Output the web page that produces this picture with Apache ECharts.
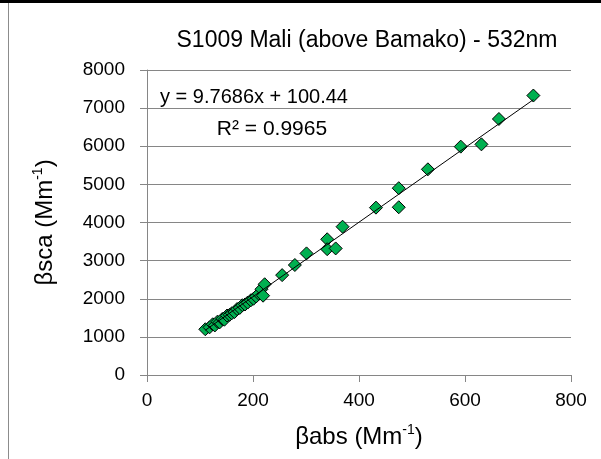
<!DOCTYPE html>
<html>
<head>
<meta charset="utf-8">
<script src="https://cdn.jsdelivr.net/npm/echarts@6/dist/echarts.min.js"></script>
<style>
html,body{margin:0;padding:0;background:#fff;}
#chart{width:601px;height:459px;}
</style>
</head>
<body>
<div id="chart"></div>
<script>
// ---- data ----
var titleText = 'S1009 Mali (above Bamako) - 532nm';
var equationText = 'y = 9.7686x + 100.44';
var r2Text = 'R\u00B2 = 0.9965';
var trendSlope = 9.7686;
var trendIntercept = 100.44;
var xTicks = [0, 200, 400, 600, 800];
var yTicks = [0, 1000, 2000, 3000, 4000, 5000, 6000, 7000, 8000];
var babs = [110, 118, 124, 128, 133, 137, 142, 146, 151, 156, 160, 165, 170, 175, 180, 185, 190, 196, 201, 206, 211, 216, 219, 222,
            255, 279, 301, 340, 340, 356, 369, 432, 475, 475, 530, 592, 631, 664, 729];
var bsca = [1200, 1250, 1330, 1300, 1400, 1380, 1470, 1450, 1560, 1580, 1620, 1650, 1730, 1760, 1830, 1850, 1900, 1960, 2000, 2060, 2130, 2250, 2080, 2380,
            2620, 2885, 3190, 3560, 3300, 3320, 3890, 4390, 4900, 4400, 5395, 5990, 6050, 6715, 7330];

var font = 'Liberation Sans';
var pts = babs.map(function(x, i){ return [x, bsca[i]]; });
var xmin = Math.min.apply(null, babs), xmax = Math.max.apply(null, babs);
var trend = [[xmin, trendSlope * xmin + trendIntercept], [xmax, trendSlope * xmax + trendIntercept]];

var chart = echarts.init(document.getElementById('chart'), null, {renderer: 'canvas'});
var gray = '#868686';
chart.setOption({
  animation: false,
  backgroundColor: '#fff',
  grid: {left: 147, right: 30, top: 70, bottom: 84, containLabel: false},
  xAxis: {
    type: 'value', min: xTicks[0], max: xTicks[xTicks.length - 1], interval: xTicks[1] - xTicks[0],
    axisLine: {show: true, onZero: false, lineStyle: {color: gray, width: 1}},
    axisTick: {show: true, length: 7, lineStyle: {color: gray}},
    splitLine: {show: false},
    axisLabel: {color: '#000', fontFamily: font, fontSize: 19, margin: 16, formatter: function(v){ return String(v); }},
    name: '{n|\u03B2abs (Mm}{s|-1}{n|)}',
    nameLocation: 'middle', nameGap: 48,
    nameTextStyle: {rich: {
      n: {fontFamily: font, fontSize: 24, color: '#000', lineHeight: 28},
      s: {fontFamily: font, fontSize: 14, color: '#000', verticalAlign: 'top', lineHeight: 28}
    }}
  },
  yAxis: {
    type: 'value', min: yTicks[0], max: yTicks[yTicks.length - 1], interval: yTicks[1] - yTicks[0],
    axisLine: {show: true, lineStyle: {color: gray, width: 1}},
    axisTick: {show: true, length: 7, lineStyle: {color: gray}},
    splitLine: {show: true, lineStyle: {color: gray, width: 1}},
    axisLabel: {color: '#000', fontFamily: font, fontSize: 19, margin: 22, formatter: function(v){ return String(v); }},
    name: '{n|\u03B2sca (Mm}{s|-1}{n|)}',
    nameLocation: 'middle', nameGap: 88, nameRotate: 90,
    nameTextStyle: {rich: {
      n: {fontFamily: font, fontSize: 24, color: '#000', lineHeight: 28},
      s: {fontFamily: font, fontSize: 14, color: '#000', verticalAlign: 'top', lineHeight: 28}
    }}
  },
  series: [
    {
      type: 'line', data: trend, symbol: 'none', silent: true,
      lineStyle: {color: '#000', width: 1}, z: 3
    },
    {
      type: 'scatter', data: pts, symbol: 'diamond', symbolSize: 13,
      itemStyle: {color: '#00B050', borderColor: '#000', borderWidth: 1, opacity: 1}, z: 2
    }
  ],
  graphic: [
    {type: 'rect', shape: {x: 0, y: 0, width: 601, height: 3}, style: {fill: '#000'}, silent: true},
    {type: 'rect', shape: {x: 8, y: 3, width: 1, height: 456}, style: {fill: '#8c8c8c'}, silent: true},
    {type: 'text', x: 367, y: 41, style: {text: titleText, textAlign: 'center', textVerticalAlign: 'middle', font: '23px "' + font + '"', fill: '#000'}},
    {type: 'text', x: 254, y: 97, style: {text: equationText, textAlign: 'center', textVerticalAlign: 'middle', font: '20px "' + font + '"', fill: '#000'}},
    {type: 'text', x: 272, y: 129, style: {text: r2Text, textAlign: 'center', textVerticalAlign: 'middle', font: '21px "' + font + '"', fill: '#000'}}
  ]
});
</script>
</body>
</html>
